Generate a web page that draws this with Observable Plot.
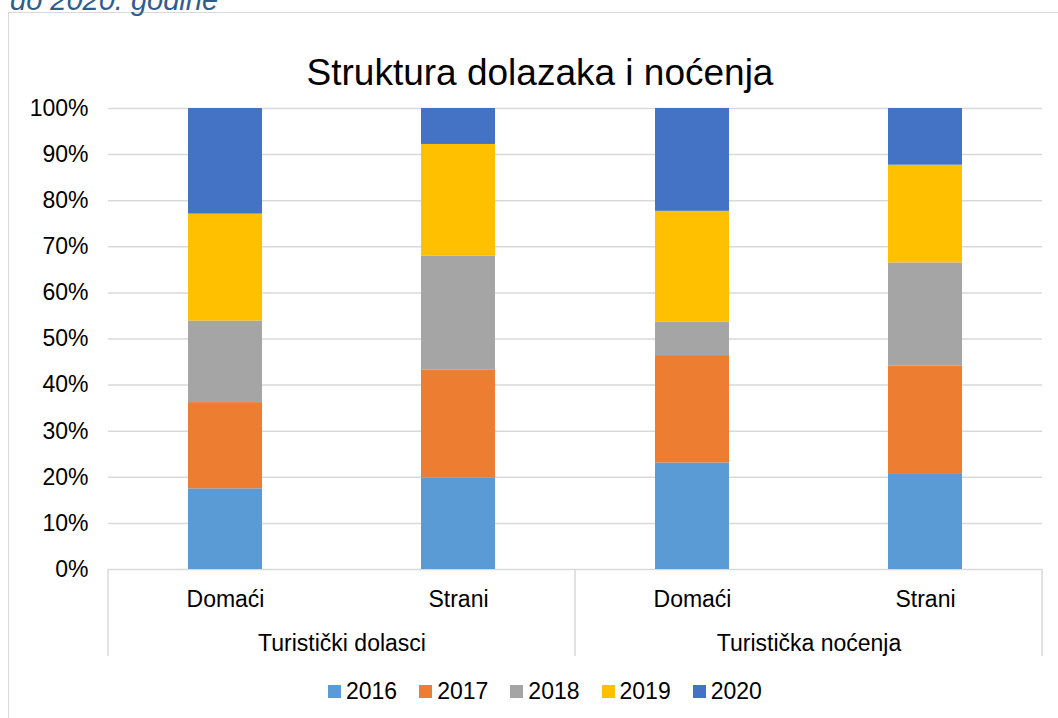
<!DOCTYPE html>
<html>
<head>
<meta charset="utf-8">
<script src="https://cdn.jsdelivr.net/npm/d3@7"></script>
<script src="https://cdn.jsdelivr.net/npm/@observablehq/plot@0.6"></script>
<style>
html, body { margin: 0; padding: 0; background: #fff; overflow: hidden; }
#wrap { position: relative; width: 1058px; height: 718px; overflow: hidden; font-family: "Liberation Sans", Arial, sans-serif; }
#frame { position: absolute; left: 8px; top: 12px; width: 1200px; height: 900px; border-left: 1.5px solid #d9d9d9; border-top: 1.5px solid #d9d9d9; }
#pre { position: absolute; left: 10px; top: -14.5px; font-size: 29px; line-height: 29px; font-style: italic; color: #2E5D8E; white-space: nowrap; }
#title { position: absolute; left: 0; width: 1080px; top: 54px; font-size: 37px; line-height: 37px; text-align: center; color: #000; }
#chart { position: absolute; left: 0; top: 90px; }
#legend { position: absolute; left: 328px; top: 676px; }
#legend .leg-swatches { font-family: "Liberation Sans", Arial, sans-serif !important; font-size: 23px !important; color: #000; margin: 0 !important; min-height: 30px !important; height: 30px; display: flex; align-items: center; flex-wrap: nowrap !important; }
#legend .leg-swatch { margin-right: 22px !important; }
#legend .leg-swatch > svg { margin-right: 5px !important; }
</style>
</head>
<body>
<div id="wrap">
  <div id="frame"></div>
  <div id="pre">do 2020. godine</div>
  <div id="title">Struktura dolazaka i noćenja</div>
  <div id="chart"></div>
  <div id="legend"></div>
</div>
<script>
// ---- data ----
const groups = ["Turistički dolasci", "Turistička noćenja"];
const barGroup = ["Turistički dolasci", "Turistički dolasci", "Turistička noćenja", "Turistička noćenja"];
const barOrigin = ["Domaći", "Strani", "Domaći", "Strani"];
const origins = ["Domaći", "Strani"];
const years = ["2016", "2017", "2018", "2019", "2020"];
const colors = ["#5B9BD5", "#ED7D31", "#A5A5A5", "#FFC000", "#4472C4"];
const share2016 = [17.5, 19.8, 23.1, 20.8];
const share2017 = [18.7, 23.5, 23.3, 23.3];
const share2018 = [17.7, 24.7, 7.3, 22.4];
const share2019 = [23.2, 24.2, 24.0, 21.2];
const share2020 = [22.9, 7.8, 22.3, 12.3];
const yTicks = [0, 10, 20, 30, 40, 50, 60, 70, 80, 90, 100];

const series = [share2016, share2017, share2018, share2019, share2020];
const rows = years.flatMap((yr, i) =>
  barGroup.map((g, j) => ({ group: g, origin: barOrigin[j], year: yr, value: series[i][j] }))
);

const plot = Plot.plot({
  width: 1058,
  height: 580,
  marginTop: 18,
  marginBottom: 101,
  marginLeft: 108,
  marginRight: 16,
  style: { fontFamily: '"Liberation Sans", Arial, sans-serif', fontSize: "23px", color: "#000", background: "transparent", overflow: "visible" },
  fx: { domain: groups, padding: 0, label: null },
  x: { domain: origins, paddingInner: 0.683, paddingOuter: 0.3415, label: null },
  y: { domain: [0, 100], label: null },
  color: { domain: years, range: colors },
  marks: [
    Plot.gridY(yTicks, { stroke: "#d9d9d9", strokeOpacity: 1, strokeWidth: 1.5 }),
    Plot.barY(rows, { fx: "group", x: "origin", y: "value", fill: "year" }),
    Plot.axisY(yTicks, { tickFormat: d => d + "%", tickSize: 0, tickPadding: 20, label: null }),
    Plot.axisX({ tickSize: 0, tickPadding: 21, label: null }),
    Plot.axisFx({ anchor: "bottom", tickSize: 0, tickPadding: 65, label: null })
  ]
});

document.getElementById("chart").appendChild(plot);

// category dividers derived from the facet and y scales
const fx = plot.scale("fx");
const ys = plot.scale("y");
const edges = groups.map(g => fx.apply(g)).concat([fx.apply(groups[groups.length - 1]) + fx.bandwidth]);
const y0 = ys.apply(0);
d3.select(plot).append("g")
  .selectAll("line").data(edges).join("line")
  .attr("x1", d => d).attr("x2", d => d)
  .attr("y1", y0).attr("y2", y0 + 87)
  .attr("stroke", "#d9d9d9").attr("stroke-width", 1.5);

const leg = plot.legend("color", { swatchSize: 13, className: "leg" });
document.getElementById("legend").appendChild(leg);
</script>
</body>
</html>
